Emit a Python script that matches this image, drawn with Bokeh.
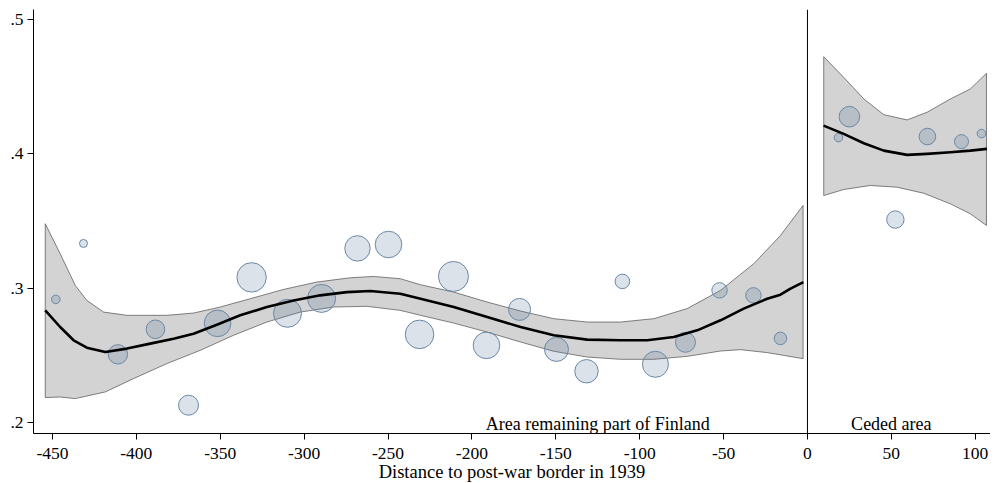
from bokeh.plotting import figure
from bokeh.models import Range1d, FixedTicker, Span, Label
from bokeh.embed import file_html
from bokeh.resources import INLINE

# ---- data ----
x_ticks = [-450, -400, -350, -300, -250, -200, -150, -100, -50, 0, 50, 100]
x_tick_labels = ["-450", "-400", "-350", "-300", "-250", "-200", "-150", "-100", "-50", "0", "50", "100"]
y_ticks = [0.2, 0.3, 0.4, 0.5]
y_tick_labels = [".2", ".3", ".4", ".5"]

# binned means (bubbles); weight ~ bubble radius
bin_x = [-448, -431.5, -411, -388.6, -368.9, -351.6, -331.3, -309.9, -289.6, -268.2,
         -249.7, -231.2, -211, -191.3, -171.6, -149.6, -131.7, -110.3, -90.6, -72.7,
         -52.4, -32.2, -16.1, 18.5, 25, 52.4, 71.5, 91.8, 103.7]
bin_y = [0.2916, 0.3333, 0.2506, 0.2693, 0.2127, 0.2737, 0.3080, 0.2812, 0.2923, 0.3296,
         0.3325, 0.2655, 0.3087, 0.2573, 0.2841, 0.2543, 0.2380, 0.3050, 0.2432, 0.2596,
         0.2983, 0.2946, 0.2625, 0.4122, 0.4278, 0.3511, 0.4130, 0.4092, 0.4152]
bin_w = [4.3, 4.0, 9.7, 9.3, 10, 13.3, 14.7, 14, 14, 12.7,
         13.3, 14.3, 15, 13.3, 11, 12, 11.7, 7.3, 13, 10,
         7.7, 7.7, 6.3, 4.3, 10.3, 8.7, 8.3, 7, 4.3]

# fitted line, left of border
fitL_x = [-454.3, -445.4, -437.4, -429.5, -418.5, -405.6, -391.7, -377.8, -365.9, -352.0,
          -338.1, -322.2, -306.3, -290.4, -274.5, -260.6, -242.7, -230.6, -210.8, -190.9,
          -171.0, -151.2, -131.3, -111.4, -95.5, -79.7, -65.7, -51.8, -38.0, -24.0,
          -16.1, -10.1, -2.4]
fitL_y = [0.2834, 0.2710, 0.2611, 0.2556, 0.2523, 0.2549, 0.2586, 0.2623, 0.2660, 0.2727,
          0.2797, 0.2859, 0.2908, 0.2946, 0.2970, 0.2978, 0.2958, 0.2921, 0.2859, 0.2784,
          0.2710, 0.2648, 0.2616, 0.2611, 0.2611, 0.2635, 0.2685, 0.2760, 0.2847, 0.2921,
          0.2951, 0.2996, 0.3045]
# confidence band, left
ciL_up_x = [-454.3, -445.4, -436.4, -429.5, -419.5, -405.6, -381.8, -365.9, -350.0, -332.1,
            -312.3, -292.4, -272.5, -258.6, -242.7, -230.6, -210.8, -190.9, -171.0, -151.2,
            -131.3, -111.4, -91.6, -71.7, -51.8, -32.0, -16.1, -2.6]
ciL_up_y = [0.3480, 0.3256, 0.3020, 0.2908, 0.2821, 0.2797, 0.2797, 0.2814, 0.2859, 0.2921,
            0.2990, 0.3045, 0.3077, 0.3087, 0.3070, 0.3025, 0.2970, 0.2896, 0.2829, 0.2772,
            0.2747, 0.2747, 0.2772, 0.2847, 0.2983, 0.3182, 0.3392, 0.3616]
ciL_lo_x = [-454.3, -445.4, -436.4, -418.5, -401.7, -381.8, -361.9, -342.1, -322.2, -302.3,
            -282.5, -262.6, -242.7, -230.6, -210.8, -190.9, -171.0, -151.2, -131.3, -111.4,
            -91.6, -71.7, -51.8, -39.9, -24.0, -2.6]
ciL_lo_y = [0.2184, 0.2188, 0.2176, 0.2226, 0.2325, 0.2437, 0.2536, 0.2648, 0.2747, 0.2821,
            0.2859, 0.2864, 0.2834, 0.2797, 0.2739, 0.2672, 0.2598, 0.2529, 0.2486, 0.2469,
            0.2469, 0.2491, 0.2531, 0.2541, 0.2519, 0.2474]

# fitted line and band, ceded area
fitR_x = [9.6, 21.6, 33.6, 45.5, 59.4, 71.3, 85.2, 97.1, 107.0]
fitR_y = [0.4211, 0.4150, 0.4080, 0.4025, 0.3993, 0.4001, 0.4013, 0.4025, 0.4038]
ciR_up_x = [9.7, 21.6, 33.6, 45.5, 59.4, 71.3, 85.2, 97.1, 106.7]
ciR_up_y = [0.4725, 0.4571, 0.4410, 0.4293, 0.4254, 0.4311, 0.4410, 0.4485, 0.4601]
ciR_lo_x = [9.7, 21.6, 37.5, 53.5, 69.3, 85.2, 97.1, 106.7]
ciR_lo_y = [0.3690, 0.3735, 0.3765, 0.3752, 0.3707, 0.3628, 0.3554, 0.3467]

FONT = "Liberation Serif"

p = figure(frame_width=957, frame_height=424, output_backend="svg", toolbar_location=None,
           x_range=Range1d(-461.3, 109.1), y_range=Range1d(0.1916, 0.5077),
           min_border_left=33, min_border_right=0, min_border_top=9, min_border_bottom=0)
p.outline_line_color = None
p.background_fill_color = "white"
p.border_fill_color = "white"
p.xgrid.visible = False
p.ygrid.visible = False

# bands
p.patch(ciL_up_x + ciL_lo_x[::-1], ciL_up_y + ciL_lo_y[::-1],
        fill_color="#d3d3d3", line_color="#4d4d4d", line_width=0.7)
p.patch(ciR_up_x + ciR_lo_x[::-1], ciR_up_y + ciR_lo_y[::-1],
        fill_color="#d3d3d3", line_color="#4d4d4d", line_width=0.7)

# bubbles
p.scatter(bin_x, bin_y, size=[2 * w for w in bin_w], marker="circle",
          fill_color="#4a6f94", fill_alpha=0.2, line_color="#6b88a6", line_width=1)

# fit lines
p.line(fitL_x, fitL_y, line_color="black", line_width=2.6, line_join="round")
p.line(fitR_x, fitR_y, line_color="black", line_width=2.6, line_join="round")

# border line
p.add_layout(Span(location=0, dimension="height", line_color="black", line_width=1))

p.add_layout(Label(x=-125, y=0.1985, text="Area remaining part of Finland", text_align="center",
                   text_baseline="middle", text_font=FONT, text_font_size="18px", text_color="black"))
p.add_layout(Label(x=50, y=0.1985, text="Ceded area", text_align="center",
                   text_baseline="middle", text_font=FONT, text_font_size="18px", text_color="black"))

# axes
p.xaxis.ticker = FixedTicker(ticks=x_ticks)
p.xaxis.major_label_overrides = {t: l for t, l in zip(x_ticks, x_tick_labels)}
p.yaxis.ticker = FixedTicker(ticks=y_ticks)
p.yaxis.major_label_overrides = {t: l for t, l in zip(y_ticks, y_tick_labels)}
p.xaxis.axis_label = "Distance to post-war border in 1939"
for ax in (p.xaxis, p.yaxis):
    ax.axis_line_color = "black"
    ax.axis_line_width = 1
    ax.major_tick_line_color = "black"
    ax.major_tick_out = 6
    ax.major_tick_in = 0
    ax.minor_tick_line_color = None
    ax.major_label_text_font = FONT
    ax.major_label_text_font_size = "17.5px"
    ax.major_label_text_color = "black"
p.xaxis.major_label_standoff = 8
p.yaxis.major_label_standoff = 4
p.yaxis.major_label_orientation = "horizontal"
p.xaxis.axis_label_text_font = FONT
p.xaxis.axis_label_text_font_size = "18.5px"
p.xaxis.axis_label_text_font_style = "normal"
p.xaxis.axis_label_text_color = "black"
p.xaxis.axis_label_standoff = 0

open("out.html", "w").write(file_html(p, INLINE))
